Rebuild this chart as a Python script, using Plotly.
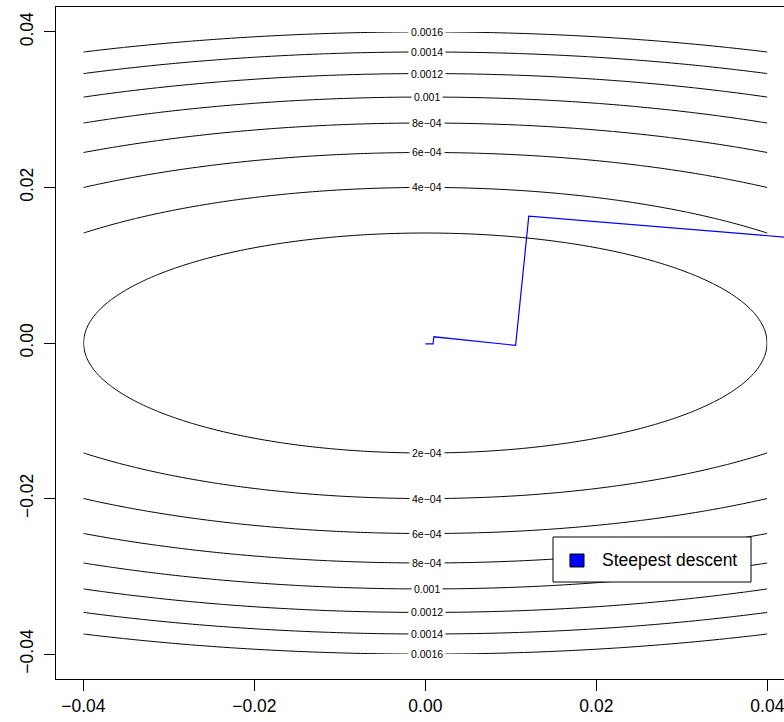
import numpy as np
import plotly.graph_objects as go

# Quadratic bowl f(x, y) = a*x^2 + b*y^2 evaluated on a square grid
coef_x = 0.1252
coef_y = 1.0
grid_lo, grid_hi, grid_n = -0.04, 0.04, 201

# Contour levels and their printed labels
levels = [2e-4, 4e-4, 6e-4, 8e-4, 1e-3, 1.2e-3, 1.4e-3, 1.6e-3]
level_labels = ["2e\u221204", "4e\u221204", "6e\u221204", "8e\u221204",
                "0.001", "0.0012", "0.0014", "0.0016"]

# Steepest-descent iterates (last point first leaves the plotted window)
path_x = [0.0600, 0.0121, 0.01056, 0.0010, 0.0009, 0.0000]
path_y = [0.0120, 0.0163, -0.0003, 0.0008, -0.0001, -0.0001]
path_name = "Steepest descent"

tick_vals = [-0.04, -0.02, 0.0, 0.02, 0.04]
tick_text = ["\u22120.04", "\u22120.02", "0.00", "0.02", "0.04"]

gx = np.linspace(grid_lo, grid_hi, grid_n)
gy = np.linspace(grid_lo, grid_hi, grid_n)
X, Y = np.meshgrid(gx, gy)
Z = coef_x * X ** 2 + coef_y * Y ** 2

FONT = "Liberation Sans, Arial, sans-serif"

fig = go.Figure()
fig.add_trace(go.Contour(
    x=gx, y=gy, z=Z,
    contours=dict(start=levels[0], end=levels[-1], size=levels[1] - levels[0],
                  coloring="none", showlabels=False),
    line=dict(color="black", width=1),
    showscale=False, showlegend=False, hoverinfo="skip",
))
fig.add_trace(go.Scatter(
    x=path_x, y=path_y, mode="lines",
    line=dict(color="#0000ff", width=1.2),
    showlegend=False, hoverinfo="skip",
))

# inline contour labels: the outer levels are labelled above and below,
# the innermost ellipse only below
label_x = 0.0002
for lev, txt in zip(levels, level_labels):
    yv = float(np.sqrt((lev - coef_x * label_x ** 2) / coef_y))
    sides = [-1] if lev == levels[0] else [1, -1]
    for s in sides:
        fig.add_annotation(
            x=label_x, y=s * yv, text=txt, showarrow=False,
            font=dict(family=FONT, size=10.5, color="black"),
            bgcolor="white", borderpad=2,
            xanchor="center", yanchor="middle",
        )

# boxed legend in the lower right (paper coordinates)
fig.add_shape(type="rect", xref="paper", yref="paper",
              x0=0.6827, x1=0.9547, y0=0.1443, y1=0.2113,
              line=dict(color="black", width=1), fillcolor="white", layer="above")
fig.add_shape(type="rect", xref="paper", yref="paper",
              x0=0.7060, x1=0.7253, y0=0.1667, y1=0.1860,
              line=dict(color="black", width=1), fillcolor="#0000ff", layer="above")
fig.add_annotation(xref="paper", yref="paper", x=0.7470, y=0.1775,
                   text=path_name, showarrow=False,
                   xanchor="left", yanchor="middle",
                   font=dict(family=FONT, size=17.5, color="black"))

axis_common = dict(
    showgrid=False, zeroline=False, showline=True, linecolor="black",
    linewidth=1, ticks="outside", ticklen=11, tickwidth=1, tickcolor="black",
    tickvals=tick_vals, ticktext=tick_text,
    tickfont=dict(family=FONT, size=17.5, color="black"),
    automargin=False, ticklabeloverflow="allow",
)

fig.update_layout(
    width=784, height=722,
    margin=dict(l=56, r=0, t=7, b=43),
    paper_bgcolor="white", plot_bgcolor="white",
    xaxis=dict(range=[-0.0432, 0.04195], mirror=True, **axis_common),
    yaxis=dict(range=[-0.0432, 0.0432], mirror=False, tickangle=-90,
               ticklabelstandoff=4, **axis_common),
    showlegend=False,
)

fig.write_html("out.html")
